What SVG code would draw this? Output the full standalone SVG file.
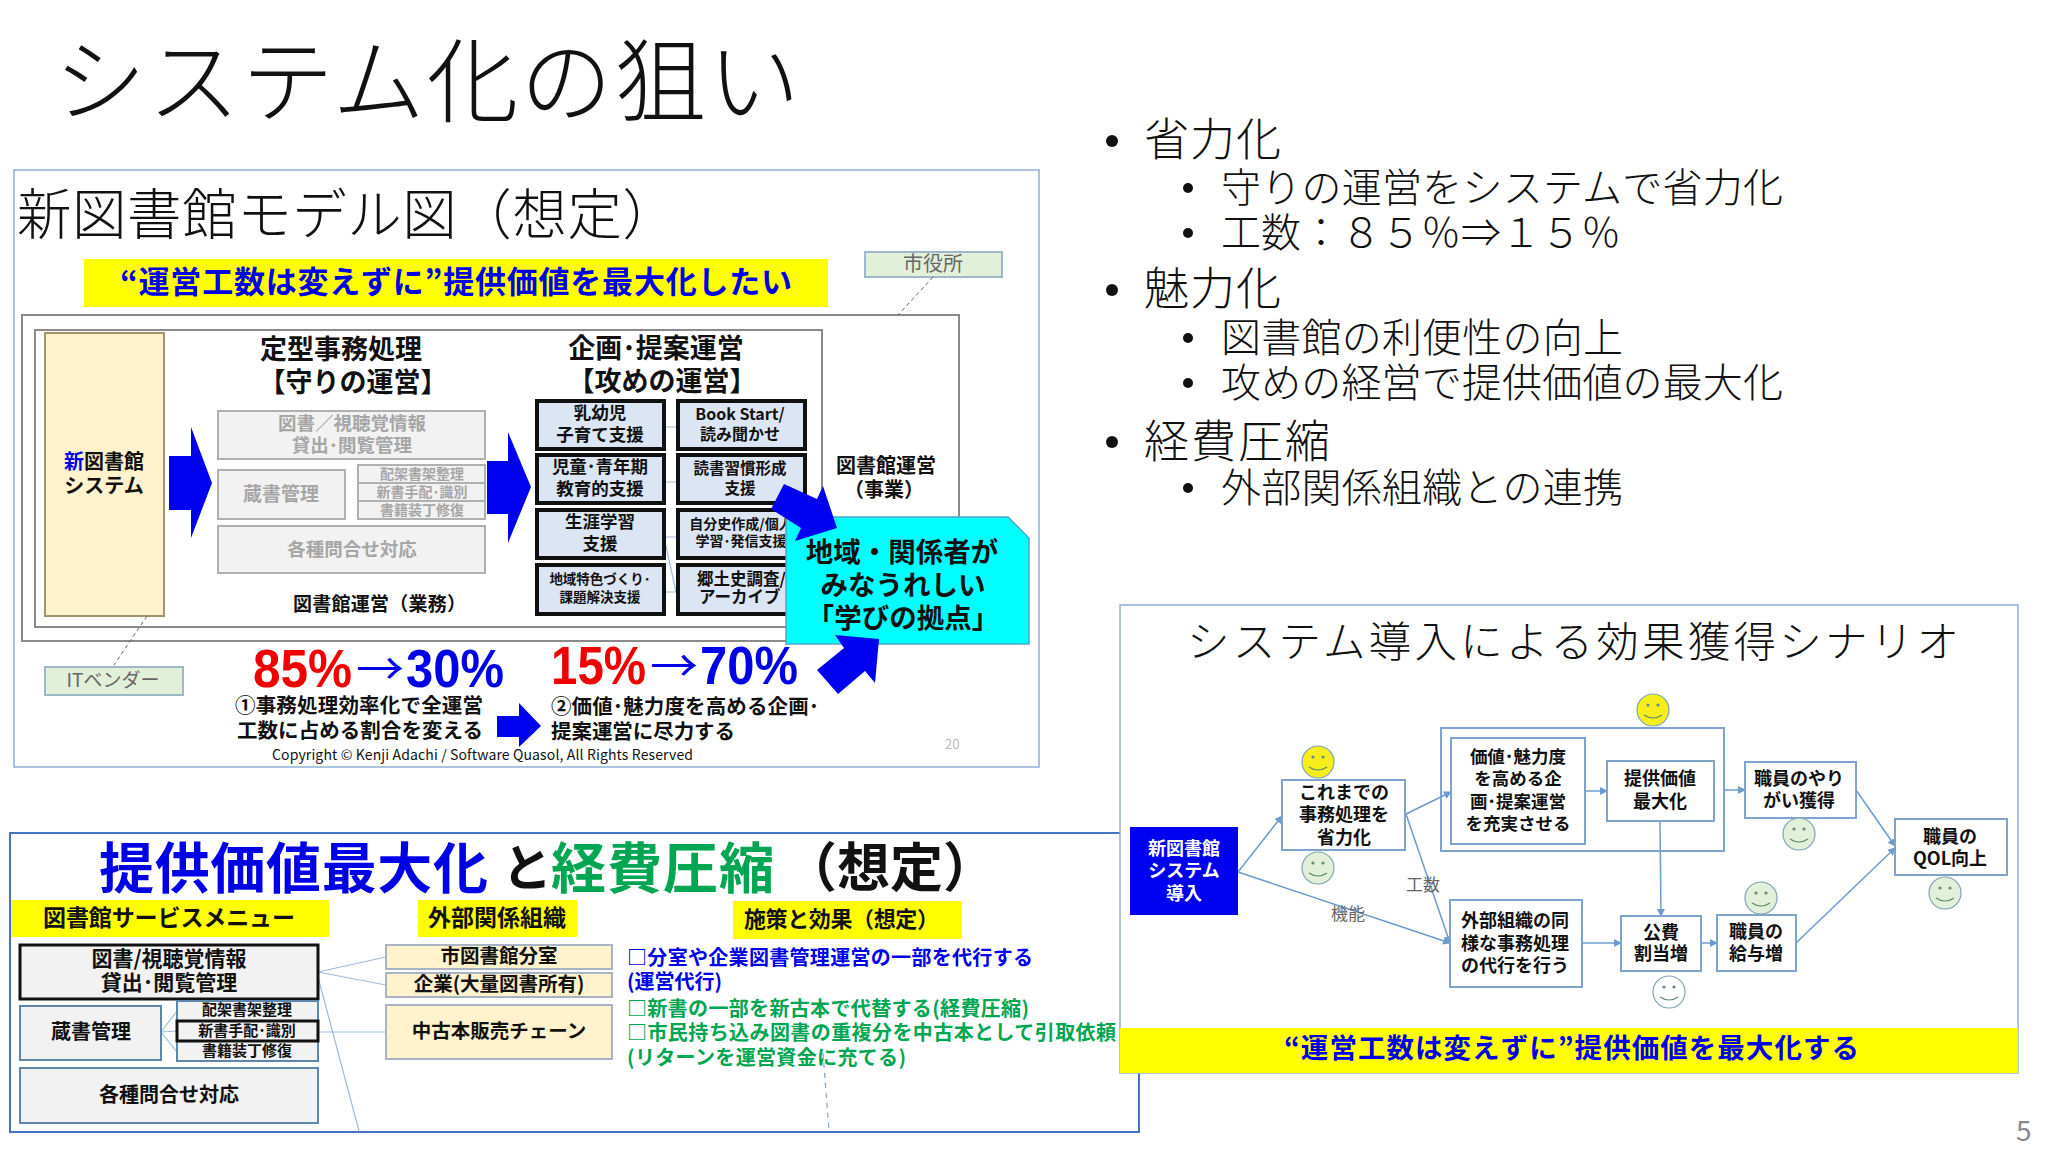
<svg xmlns="http://www.w3.org/2000/svg" width="2048" height="1152" viewBox="0 0 2048 1152">
<style>
text{font-family:"Noto Sans CJK JP","Noto Sans",sans-serif;dominant-baseline:central;fill:#111;transform:translateY(-.08em)}
.b{font-weight:700}
.l{font-weight:300}
.m{text-anchor:middle}
.frame{fill:#fff;stroke:#8fb0d6;stroke-width:1.5}
.gbox{fill:#f2f2f2;stroke:#b0b0b0;stroke-width:2}
.gt{fill:#a6a6a6;font-weight:700;text-anchor:middle}
.blk{fill:#dce5f3;stroke:#111;stroke-width:4}
.out{fill:#fff;stroke:#8a8a8a;stroke-width:2}
.ar{fill:#0000f0}
.yel{fill:#ffff00}
.blue{fill:#0000e6}
.grn{fill:#00a651}
.lbox{fill:#e2efd9;stroke:#9db8c8;stroke-width:2}
.lt{fill:#666;text-anchor:middle}
.dash{fill:none;stroke:#666;stroke-width:1;stroke-dasharray:4 3}
.link{fill:none;stroke:#9dbbdc;stroke-width:1.2}
.con{fill:none;stroke:#6d9bcf;stroke-width:1.5;marker-end:url(#ah)}
.node{fill:#fff;stroke:#7fa3cf;stroke-width:2}
.sm{stroke:#7fa3b8;stroke-width:1.2}
.mouth{fill:none;stroke:#5a8a6a;stroke-width:1.2}
.eye{fill:#6a8a7a}
.wb{fill:#f2f2f2;stroke:#5f86ad;stroke-width:2}
.kb{fill:#f2f2f2;stroke:#111;stroke-width:3}
.cr{fill:#fff2cc;stroke:#a8b4c4;stroke-width:2}
</style>
<defs>
<marker id="ah" markerWidth="8" markerHeight="8" refX="7" refY="4" orient="auto" markerUnits="userSpaceOnUse"><path d="M0 0L8 4L0 8Z" fill="#6d9bcf"/></marker>
<g id="face"><circle r="16" class="sm"/><circle cx="-5" cy="-5" r="1.6" class="eye"/><circle cx="5" cy="-5" r="1.6" class="eye"/><path d="M-9 5Q0 11 9 5" class="mouth"/></g>
</defs>
<rect width="2048" height="1152" fill="#fff"/>

<g id="page-title"><text x="54" y="82" font-size="92" class="l" textLength="746" lengthAdjust="spacing">システム化の狙い</text></g>

<g id="bullets" class="l">
<g id="b1"><circle cx="1112" cy="141" r="6" fill="#111"/><text x="1144" y="140" font-size="45" class="l" textLength="137">省力化</text></g>
<g id="b1a"><circle cx="1188" cy="188" r="5" fill="#111"/><text x="1221" y="188" font-size="40" class="l" textLength="562">守りの運営をシステムで省力化</text></g>
<g id="b1b"><circle cx="1188" cy="233" r="5" fill="#111"/><text x="1221" y="233" font-size="40" class="l" textLength="400">工数：８５％⇒１５％</text></g>
<g id="b2"><circle cx="1112" cy="290" r="6" fill="#111"/><text x="1144" y="289" font-size="45" class="l" textLength="137">魅力化</text></g>
<g id="b2a"><circle cx="1188" cy="338" r="5" fill="#111"/><text x="1221" y="338" font-size="40" class="l" textLength="402">図書館の利便性の向上</text></g>
<g id="b2b"><circle cx="1188" cy="383" r="5" fill="#111"/><text x="1221" y="383" font-size="40" class="l" textLength="562">攻めの経営で提供価値の最大化</text></g>
<g id="b3"><circle cx="1112" cy="442" r="6" fill="#111"/><text x="1144" y="442" font-size="45" class="l" textLength="186">経費圧縮</text></g>
<g id="b3a"><circle cx="1188" cy="488" r="5" fill="#111"/><text x="1221" y="488" font-size="40" class="l" textLength="402">外部関係組織との連携</text></g>
</g>

<g id="panel-model">
<rect class="frame" x="14" y="170" width="1025" height="597"/>
<text x="17" y="215" font-size="54.5" class="l" textLength="660">新図書館モデル図（想定）</text>
<g id="banner1"><rect class="yel" x="84" y="259" width="744" height="48"/><text x="120" y="282" font-size="31" class="b blue" textLength="672">“運営工数は変えずに”提供価値を最大化したい</text></g>
<rect id="outer" class="out" x="22" y="315" width="937" height="326"/>
<rect id="inner" class="out" x="35" y="330" width="787" height="297"/>
<g id="city"><rect class="lbox" x="865" y="252" width="137" height="25"/><text class="lt" x="933" y="264" font-size="20">市役所</text></g>
<g id="sys"><rect x="45" y="333" width="119" height="283" fill="#fff2cc" stroke="#a09468" stroke-width="2"/><text class="b m" x="104" y="462" font-size="20"><tspan fill="#0000e6">新</tspan>図書館</text><text class="b m" x="104" y="486" font-size="20">システム</text></g>
<path class="dash" d="M933 277L898 315M147 616L114 665"/>
<g id="head1"><text class="b m" x="341" y="350" font-size="27">定型事務処理</text><text class="b m" x="353" y="383" font-size="27">【守りの運営】</text></g>
<g id="head2"><text class="b m" x="656" y="349" font-size="27">企画･提案運営</text><text class="b m" x="662" y="382" font-size="27">【攻めの運営】</text></g>
<path class="ar" d="M169 456H191V427L212 483L191 538V510H169Z"/>
<path class="ar" d="M487 461H508V432L531 487L508 543V514H487Z"/>
<g id="g1"><rect class="gbox" x="218" y="411" width="267" height="48"/><text class="gt" x="352" y="423" font-size="18.5">図書／視聴覚情報</text><text class="gt" x="352" y="445" font-size="18.5">貸出･閲覧管理</text></g>
<g id="g2"><rect class="gbox" x="218" y="470" width="127" height="49"/><text class="gt" x="281" y="494" font-size="19">蔵書管理</text></g>
<g id="g3"><rect class="gbox" x="358" y="465" width="127" height="18"/><text class="gt" x="422" y="474" font-size="14">配架書架整理</text></g>
<g id="g4"><rect class="gbox" x="358" y="483" width="127" height="18"/><text class="gt" x="422" y="492" font-size="14">新書手配･識別</text></g>
<g id="g5"><rect class="gbox" x="358" y="501" width="127" height="18"/><text class="gt" x="422" y="510" font-size="14">書籍装丁修復</text></g>
<g id="g6"><rect class="gbox" x="218" y="526" width="267" height="47"/><text class="gt" x="352" y="549" font-size="18.5">各種問合せ対応</text></g>
<path class="link" d="M664 427H676M664 482H676M664 537H676M664 537L676 592M664 592H676"/>
<g id="a1"><rect class="blk" x="537" y="401" width="127" height="48"/><text class="b m" x="600" y="413" font-size="17.5">乳幼児</text><text class="b m" x="600" y="435" font-size="17.5">子育て支援</text></g>
<g id="a2"><rect class="blk" x="537" y="455" width="127" height="48"/><text class="b m" x="600" y="467" font-size="17.5">児童･青年期</text><text class="b m" x="600" y="489" font-size="17.5">教育的支援</text></g>
<g id="a3"><rect class="blk" x="537" y="510" width="127" height="48"/><text class="b m" x="600" y="522" font-size="17.5">生涯学習</text><text class="b m" x="600" y="544" font-size="17.5">支援</text></g>
<g id="a4"><rect class="blk" x="537" y="565" width="127" height="49"/><text class="b m" x="600" y="579" font-size="13.5">地域特色づくり･</text><text class="b m" x="600" y="597" font-size="13.5">課題解決支援</text></g>
<g id="c1"><rect class="blk" x="678" y="401" width="127" height="48"/><text class="b m" x="740" y="414" font-size="16">Book Start/</text><text class="b m" x="740" y="434" font-size="16">読み聞かせ</text></g>
<g id="c2"><rect class="blk" x="678" y="455" width="127" height="48"/><text class="b m" x="740" y="468" font-size="15.5">読書習慣形成</text><text class="b m" x="740" y="488" font-size="15.5">支援</text></g>
<g id="c3"><rect class="blk" x="678" y="510" width="127" height="48"/><text class="b m" x="741" y="524" font-size="14">自分史作成/個人</text><text class="b m" x="741" y="541" font-size="14">学習･発信支援</text></g>
<g id="c4"><rect class="blk" x="678" y="565" width="127" height="49"/><text class="b" x="697" y="579" font-size="16.5">郷土史調査/</text><text class="b" x="699" y="597" font-size="16.5">アーカイブ</text></g>
<g id="biz"><text class="b m" x="886" y="466" font-size="20">図書館運営</text><text class="b m" x="884" y="490" font-size="20">（事業）</text></g>
<text id="ops" class="b" x="293" y="604" font-size="19" textLength="173">図書館運営（業務）</text>
<g id="vendor"><rect class="lbox" x="45" y="667" width="138" height="28"/><text class="lt" x="113" y="680" font-size="19">ITベンダー</text></g>
<g id="goal"><path d="M786 517H1008L1029 538V644H786Z" fill="#00ffff" stroke="#4aa8c8" stroke-width="1.5"/><text class="b m" x="902" y="552" font-size="27.5">地域・関係者が</text><text class="b m" x="903" y="585" font-size="27.5">みなうれしい</text><text class="b m" x="903" y="618" font-size="27.5">「学びの拠点」</text></g>
<path class="ar" d="M784 484L817 499L823 486L837 528L795 541L801 528L771 509Z"/>
<path class="ar" d="M835 635L879 639L875 683L865 671L838 694L817 670L844 648Z"/>
<g id="pct">
<text x="253" y="672" font-size="54" style="font-family:'Liberation Sans',sans-serif;fill:#f00000" class="b" textLength="99" lengthAdjust="spacingAndGlyphs">85%</text>
<text x="356" y="670" font-size="44" class="blue" textLength="48" lengthAdjust="spacingAndGlyphs">→</text>
<text x="406" y="672" font-size="54" style="font-family:'Liberation Sans',sans-serif" class="b blue" textLength="98" lengthAdjust="spacingAndGlyphs">30%</text>
<text x="551" y="669" font-size="54" style="font-family:'Liberation Sans',sans-serif;fill:#f00000" class="b" textLength="95" lengthAdjust="spacingAndGlyphs">15%</text>
<text x="650" y="667" font-size="44" class="blue" textLength="48" lengthAdjust="spacingAndGlyphs">→</text>
<text x="700" y="669" font-size="54" style="font-family:'Liberation Sans',sans-serif" class="b blue" textLength="98" lengthAdjust="spacingAndGlyphs">70%</text>
</g>
<text class="b" x="235" y="706" font-size="20.5" textLength="248">①事務処理効率化で全運営</text>
<text class="b" x="237" y="731" font-size="20.5" textLength="246">工数に占める割合を変える</text>
<path class="ar" d="M497 716H519V703L541 726L519 747V737H497Z"/>
<text class="b" x="551" y="707" font-size="20.5" textLength="268">②価値･魅力度を高める企画･</text>
<text class="b" x="551" y="732" font-size="20.5" textLength="184">提案運営に尽力する</text>
<text x="272" y="755" font-size="14" textLength="421">Copyright ©  Kenji Adachi / Software Quasol, All Rights Reserved</text>
<text x="945" y="745" font-size="13" style="fill:#b8b8b8">20</text>
</g>

<g id="panel-cost">
<rect x="10" y="833" width="1129" height="299" fill="#fff" stroke="#4472c4" stroke-width="2"/>
<text class="b blue" x="99" y="868" font-size="55" textLength="389">提供価値最大化</text>
<text class="b" x="502" y="868" font-size="50">と</text>
<text class="b grn" x="551" y="868" font-size="55" textLength="223">経費圧縮</text>
<text class="b" x="784" y="868" font-size="53">（想定）</text>
<g id="hdr1"><rect class="yel" x="11" y="900" width="318" height="37"/><text class="b m" x="169" y="918" font-size="23" textLength="252">図書館サービスメニュー</text></g>
<g id="hdr2"><rect class="yel" x="418" y="900" width="159" height="37"/><text class="b m" x="497" y="918" font-size="23">外部関係組織</text></g>
<g id="hdr3"><rect class="yel" x="733" y="901" width="229" height="38"/><text class="b" x="744" y="919" font-size="22" textLength="195">施策と効果（想定）</text></g>
<path class="link" d="M318 972L386 957M318 972L386 985M318 1032H386M161 1032L177 1011M161 1032L177 1031M161 1032L177 1052M318 977L359 1131"/>
<path d="M823 1053L829 1131" fill="none" stroke="#7fa3cf" stroke-width="1.2" stroke-dasharray="5 5"/>
<g id="s1"><rect class="kb" x="20" y="945" width="298" height="54"/><text class="b m" x="169" y="959" font-size="21">図書/視聴覚情報</text><text class="b m" x="169" y="983" font-size="21">貸出･閲覧管理</text></g>
<g id="s2"><rect class="wb" x="20" y="1006" width="141" height="54"/><text class="b m" x="91" y="1032" font-size="20">蔵書管理</text></g>
<g id="s3"><rect class="wb" x="177" y="1001" width="141" height="20"/><text class="b m" x="247" y="1010" font-size="15">配架書架整理</text></g>
<g id="s5"><rect class="wb" x="177" y="1041" width="141" height="20"/><text class="b m" x="247" y="1051" font-size="15">書籍装丁修復</text></g>
<g id="s4"><rect class="kb" x="177" y="1021" width="141" height="20"/><text class="b m" x="247" y="1031" font-size="15">新書手配･識別</text></g>
<g id="s6"><rect class="wb" x="20" y="1068" width="298" height="55"/><text class="b m" x="169" y="1095" font-size="20">各種問合せ対応</text></g>
<g id="o1"><rect class="cr" x="386" y="945" width="226" height="24"/><text class="b m" x="499" y="956" font-size="19.5">市図書館分室</text></g>
<g id="o2"><rect class="cr" x="386" y="973" width="226" height="24"/><text class="b m" x="499" y="984" font-size="19.5">企業(大量図書所有)</text></g>
<g id="o3"><rect class="cr" x="386" y="1005" width="226" height="54"/><text class="b m" x="499" y="1031" font-size="19.5">中古本販売チェーン</text></g>
<text class="b blue" x="627" y="958" font-size="20" textLength="406">□分室や企業図書管理運営の一部を代行する</text>
<text class="b blue" x="627" y="982" font-size="20" textLength="95">(運営代行)</text>
<text class="b grn" x="627" y="1009" font-size="20" textLength="402">□新書の一部を新古本で代替する(経費圧縮)</text>
<text class="b grn" x="627" y="1033" font-size="20" textLength="489">□市民持ち込み図書の重複分を中古本として引取依頼</text>
<text class="b grn" x="627" y="1058" font-size="20" textLength="279">(リターンを運営資金に充てる)</text>
</g>

<g id="panel-scenario">
<rect class="frame" x="1120" y="605" width="898" height="468"/>
<text class="l" x="1187" y="642" font-size="42.5" textLength="772" lengthAdjust="spacing">システム導入による効果獲得シナリオ</text>
<g id="banner3"><rect class="yel" x="1120" y="1028" width="898" height="45"/><text class="b blue" x="1284" y="1048" font-size="27.5" textLength="575">“運営工数は変えずに”提供価値を最大化する</text></g>
<rect id="group-box" class="node" x="1441" y="728" width="283" height="123"/>
<g id="connectors">
<path class="con" d="M1238 872L1282 816"/>
<path class="con" d="M1238 872L1450 943"/>
<path class="con" d="M1406 814L1451 792"/>
<path class="con" d="M1406 814L1450 943"/>
<path class="con" d="M1585 791H1607"/>
<path class="con" d="M1724 790H1745"/>
<path class="con" d="M1856 790L1895 846"/>
<path class="con" d="M1796 943L1895 848"/>
<path class="con" d="M1660 821L1661 916"/>
<path class="con" d="M1582 943H1621"/>
<path class="con" d="M1701 943H1717"/>
</g>
<text class="lt" x="1423" y="885" font-size="17">工数</text>
<text class="lt" x="1348" y="914" font-size="17">機能</text>
<g id="n0"><rect x="1130" y="827" width="108" height="88" fill="#0000f0"/><text class="b m" x="1184" y="848" font-size="18" style="fill:#fff">新図書館</text><text class="b m" x="1184" y="870" font-size="18" style="fill:#fff">システム</text><text class="b m" x="1184" y="893" font-size="18" style="fill:#fff">導入</text></g>
<g id="n1"><rect class="node" x="1282" y="780" width="123" height="70"/><text class="b m" x="1344" y="792" font-size="18">これまでの</text><text class="b m" x="1344" y="814" font-size="18">事務処理を</text><text class="b m" x="1344" y="837" font-size="18">省力化</text></g>
<g id="n2"><rect class="node" x="1451" y="738" width="134" height="106"/><text class="b m" x="1518" y="757" font-size="17.5">価値･魅力度</text><text class="b m" x="1518" y="779" font-size="17.5">を高める企</text><text class="b m" x="1518" y="802" font-size="17.5">画･提案運営</text><text class="b m" x="1518" y="824" font-size="17.5">を充実させる</text></g>
<g id="n3"><rect class="node" x="1607" y="761" width="107" height="60"/><text class="b m" x="1660" y="778" font-size="18">提供価値</text><text class="b m" x="1660" y="801" font-size="18">最大化</text></g>
<g id="n4"><rect class="node" x="1745" y="762" width="111" height="56"/><text class="b m" x="1799" y="778" font-size="18">職員のやり</text><text class="b m" x="1799" y="800" font-size="18">がい獲得</text></g>
<g id="n5"><rect class="node" x="1895" y="819" width="112" height="56"/><text class="b m" x="1950" y="836" font-size="18">職員の</text><text class="b m" x="1950" y="858" font-size="18">QOL向上</text></g>
<g id="n6"><rect class="node" x="1450" y="900" width="132" height="87"/><text class="b m" x="1515" y="920" font-size="18">外部組織の同</text><text class="b m" x="1515" y="943" font-size="18">様な事務処理</text><text class="b m" x="1515" y="965" font-size="18">の代行を行う</text></g>
<g id="n7"><rect class="node" x="1621" y="916" width="80" height="55"/><text class="b m" x="1661" y="932" font-size="18">公費</text><text class="b m" x="1661" y="953" font-size="18">割当増</text></g>
<g id="n8"><rect class="node" x="1717" y="915" width="79" height="56"/><text class="b m" x="1756" y="931" font-size="18">職員の</text><text class="b m" x="1756" y="953" font-size="18">給与増</text></g>
<g id="faces">
<use href="#face" x="1653" y="710" fill="#f5ee1a"/>
<use href="#face" x="1318" y="762" fill="#f5ee1a"/>
<use href="#face" x="1318" y="868" fill="#e2efd9"/>
<use href="#face" x="1799" y="834" fill="#e2efd9"/>
<use href="#face" x="1761" y="898" fill="#e2efd9"/>
<use href="#face" x="1945" y="893" fill="#e2efd9"/>
<use href="#face" x="1669" y="992" fill="#fff"/>
</g>
</g>
<text x="2016" y="1131" font-size="28" style="fill:#8a8a8a">5</text>
</svg>
